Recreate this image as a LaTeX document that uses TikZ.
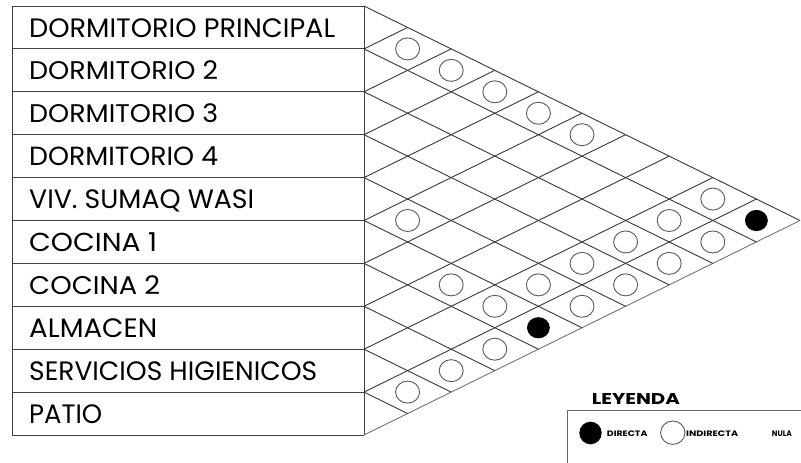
\documentclass[tikz,border=0pt]{standalone}
\usepackage{fontspec}
\setmainfont{Poppins}
\usepackage{graphicx}
\begin{document}
\begin{tikzpicture}[x=1pt,y=-1pt,
  rowbox/.style={draw=black!75, line width=1pt},
  lbl/.style={anchor=base west, inner sep=0pt, font=\fontsize{28}{28}\selectfont},
  gridline/.style={draw=black!78, line width=0.9pt},
  indir/.style={draw=black!65, line width=0.9pt, fill=white},
  legtxt/.style={anchor=west, inner sep=0pt, font=\bfseries\fontsize{9}{9}\selectfont},
]
\useasboundingbox (0,0) rectangle (801,463);
\def\xo{364}\def\w{43.6}\def\h{21.45}\def\ro{42.9}
% left table
\foreach \k in {0,...,10} {
  \draw[rowbox] (12,6+\k*\ro) -- (\xo,6+\k*\ro);
}
\draw[rowbox] (12,6) -- (12,435);
\draw[rowbox] (\xo,6) -- (\xo,435);
% labels
\foreach \t/\lw [count=\r from 0] in {DORMITORIO PRINCIPAL/306,DORMITORIO 2/189,DORMITORIO 3/189,DORMITORIO 4/189,VIV. SUMAQ WASI/225,COCINA 1/128,COCINA 2/131,ALMACEN/128,SERVICIOS HIGIENICOS/288,PATIO/73} {
  \node[lbl] (l\r) at (29,37+\r*\ro) {\resizebox{\lw pt}{18.8pt}{\t}};
}
% triangle grid
\coordinate (apex) at (800,220.5);
\draw[gridline] (\xo,6) -- (apex);
\draw[gridline, draw=black!55] (\xo,435) -- (apex);
\foreach \k in {1,...,9} {
  \pgfmathsetmacro\yk{6+\k*\ro}
  \pgfmathsetmacro\xa{\xo+(10-\k)*\w}
  \pgfmathsetmacro\ya{\yk+(10-\k)*\h}
  \pgfmathsetmacro\xb{\xo+\k*\w}
  \pgfmathsetmacro\yb{\yk-\k*\h}
  \draw[gridline] (\xo,\yk) -- (\xa,\ya);
  \draw[gridline] (\xo,\yk) -- (\xb,\yb);
}
% indirect relations
\foreach \i/\j in {0/1,0/2,0/3,0/4,0/5,0/8,4/5,1/8,2/8,1/9,3/8,2/9,5/7,4/8,3/9,5/8,4/9,6/9,7/9,8/9} {
  \pgfmathsetmacro\cx{\xo+(\j-\i)*\w}
  \pgfmathsetmacro\cy{6+((\i+\j)/2+0.5)*\ro}
  \draw[indir] (\cx,\cy) ellipse [x radius=12, y radius=11];
}
% direct relations
\foreach \i/\j in {0/9,5/9} {
  \pgfmathsetmacro\cx{\xo+(\j-\i)*\w}
  \pgfmathsetmacro\cy{6+((\i+\j)/2+0.5)*\ro}
  \fill[black] (\cx,\cy) ellipse [x radius=11.4, y radius=10.6];
}
% legend
\node[anchor=base west, inner sep=0pt, font=\bfseries\fontsize{16}{16}\selectfont] (leyenda) at (591.7,404.3) {\resizebox{88pt}{11pt}{LEYENDA}};
\draw[draw=black!60, line width=0.9pt] (567.3,470) -- (567.3,410) -- (805,410);
\fill[black] (590.5,433) ellipse [x radius=11.2, y radius=11.3];
\node[legtxt, anchor=base west] (ldir) at (606.7,436.8) {\resizebox{40.6pt}{5.6pt}{DIRECTA}};
\draw[indir] (672.8,432.7) ellipse [x radius=12.2, y radius=11.7];
\node[legtxt, anchor=base west] (lind) at (686,436.8) {\resizebox{52pt}{5.6pt}{INDIRECTA}};
\node[legtxt, anchor=base west] (lnul) at (771.7,436.8) {\resizebox{20pt}{5.6pt}{NULA}};
\end{tikzpicture}
\end{document}
